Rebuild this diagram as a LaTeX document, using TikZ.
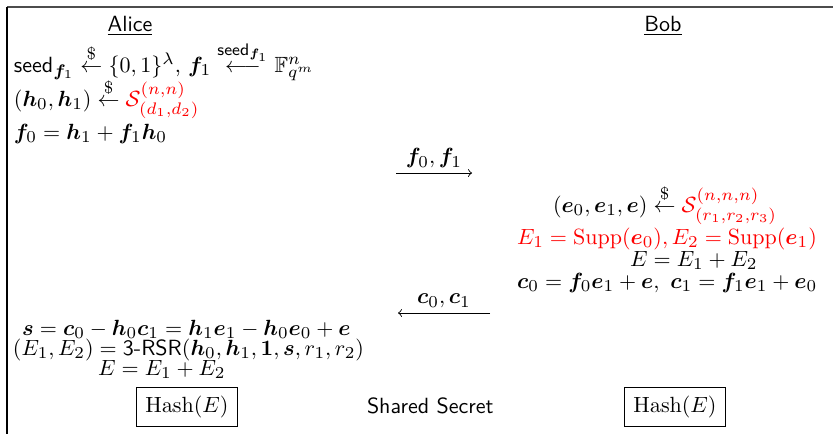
\RequirePackage{fix-cm}
\documentclass[tikz,border=0pt]{standalone}
\usepackage{amsmath,amssymb,bm}
\DeclareMathSizes{10}{10}{7.6}{5.5}
\tikzset{
  txt/.style={anchor=base west, inner sep=0pt, outer sep=0pt},
  title/.style={anchor=base, inner sep=0pt, font=\sffamily},
  hashbox/.style={draw, line width=0.5pt, inner xsep=4pt, inner ysep=4pt},
  msg/.style={->, line width=0.4pt},
  frameline/.style={line width=0.7pt}
}
\begin{document}
\begin{tikzpicture}[x=0.4545pt, y=-0.4545pt]
\useasboundingbox (0,0) rectangle (833,434);
\draw[frameline, black!70] (7,7) -- (833,7);
\draw[frameline] (7,7) -- (7,434);

\node[title] (alice) at (130,31) {\underline{Alice}};
\node[title] (bob) at (663,31) {\underline{Bob}};

\node[txt] (a1) at (14,72) {$\mathsf{seed}_{\bm f_1} \stackrel{\$}{\leftarrow} \{0,1\}^\lambda$, $\bm f_1 \stackrel{\mathsf{seed}_{\bm f_1}}{\longleftarrow} \mathbb{F}_{q^m}^n$};
\node[txt] (a2) at (14,106) {$(\bm h_0,\bm h_1) \stackrel{\$}{\leftarrow} \textcolor{red}{\mathcal{S}^{(n,n)}_{(d_1,d_2)}}$};
\node[txt] (a3) at (14,139) {$\bm f_0 = \bm h_1 + \bm f_1 \bm h_0$};

\coordinate (m1s) at (396,173);
\coordinate (m1e) at (472,173);
\draw[msg] (m1s) -- node[above, inner sep=2pt] (m1l) {$\bm f_0,\bm f_1$} (m1e);

\node[txt] (b1) at (553,212) {$(\bm e_0,\bm e_1,\bm e) \stackrel{\$}{\leftarrow} \textcolor{red}{\mathcal{S}^{(n,n,n)}_{(r_1,r_2,r_3)}}$};
\node[txt, text=red] (b2) at (517,244) {$E_1 = \mathrm{Supp}(\bm e_0), E_2 = \mathrm{Supp}(\bm e_1)$};
\node[txt] (b3) at (630,266) {$E = E_1 + E_2$};
\node[txt] (b4) at (517,288) {$\bm c_0 = \bm f_0 \bm e_1 + \bm e,\ \bm c_1 = \bm f_1 \bm e_1 + \bm e_0$};

\coordinate (m2s) at (490,313);
\coordinate (m2e) at (398,313);
\draw[msg] (m2s) -- node[above, inner sep=2pt] (m2l) {$\bm c_0,\bm c_1$} (m2e);

\node[txt] (a4) at (22,335) {$\bm s = \bm c_0 - \bm h_0 \bm c_1 = \bm h_1 \bm e_1 - \bm h_0 \bm e_0 + \bm e$};
\node[txt] (a5) at (13,355) {$(E_1,E_2) = \textsf{3-RSR}(\bm h_0,\bm h_1,\bm 1,\bm s,r_1,r_2)$};
\node[txt] (a6) at (98,375) {$E = E_1 + E_2$};

\node[hashbox] (ha) at (187,407) {$\mathrm{Hash}(E)$};
\node[txt, font=\sffamily] (ss) at (367,413) {Shared Secret};
\node[hashbox] (hb) at (675,407) {$\mathrm{Hash}(E)$};
\end{tikzpicture}
\end{document}
